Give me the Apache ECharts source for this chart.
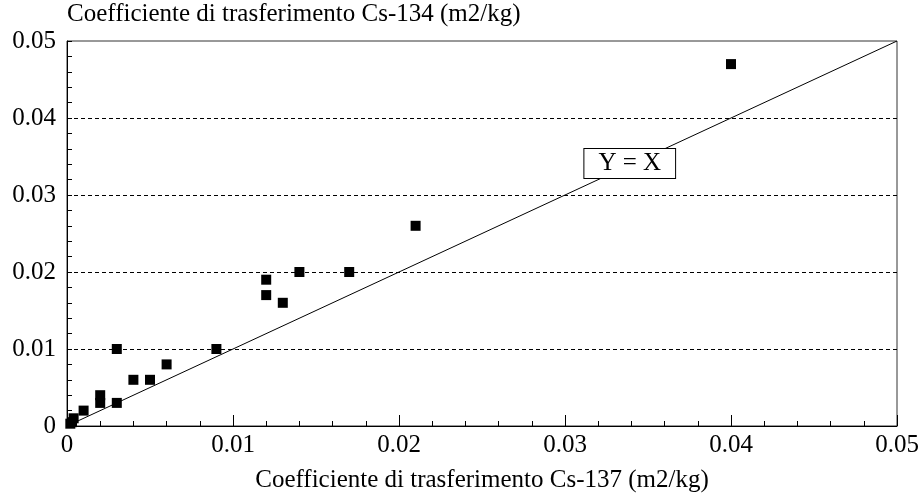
<!DOCTYPE html>
<html>
<head>
<meta charset="utf-8">
<script src="https://cdn.jsdelivr.net/npm/echarts@6/dist/echarts.min.js"></script>
<style>
  html, body { margin: 0; padding: 0; background: #fff; }
  #chart { width: 920px; height: 496px; }
</style>
</head>
<body>
<div id="chart"></div>
<script>
// Transfer coefficients (m2/kg): Cs-137 on x, Cs-134 on y
const cs137 = [0.0002, 0.0003, 0.0004, 0.001, 0.002, 0.002, 0.003, 0.003, 0.004, 0.005,
               0.006, 0.009, 0.012, 0.012, 0.013, 0.014, 0.017, 0.021, 0.040];
const cs134 = [0.0003, 0.0005, 0.001, 0.002, 0.004, 0.003, 0.010, 0.003, 0.006, 0.006,
               0.008, 0.010, 0.019, 0.017, 0.016, 0.020, 0.020, 0.026, 0.047];

// Reference line Y = X across the full axis range
const identityX = [0, 0.05];
const identityY = [0, 0.05];
const identityLabel = 'Y = X';
const identityLabelAt = [0.0339, 0.0341];

const xTicks = [0, 0.01, 0.02, 0.03, 0.04, 0.05];
const yTicks = [0, 0.01, 0.02, 0.03, 0.04, 0.05];

const xName = 'Coefficiente di trasferimento Cs-137 (m2/kg)';
const yName = 'Coefficiente di trasferimento Cs-134 (m2/kg)';

const serif = '"Liberation Serif", "Times New Roman", serif';
const textSize = 25;

const fmt = v => (v === 0 ? '0' : String(+v.toFixed(2)));

const chart = echarts.init(document.getElementById('chart'), null, { renderer: 'canvas' });

chart.setOption({
  animation: false,
  backgroundColor: '#fff',
  grid: {
    left: 67, top: 41, width: 830, height: 385,
    outerBoundsMode: 'none',
    containLabel: false,
    show: true, borderColor: '#333', borderWidth: 1, backgroundColor: 'transparent'
  },
  xAxis: {
    type: 'value',
    min: xTicks[0], max: xTicks[xTicks.length - 1], interval: 0.01,
    name: xName,
    nameLocation: 'middle',
    nameGap: 42,
    nameTextStyle: { fontFamily: serif, fontSize: textSize, color: '#000' },
    axisLine: { show: true, lineStyle: { color: '#000', width: 1 } },
    axisTick: { show: true, inside: true, length: 11, lineStyle: { color: '#000' } },
    minorTick: { show: true, splitNumber: 5, length: 5, lineStyle: { color: '#000' } },
    axisLabel: { fontFamily: serif, fontSize: textSize, color: '#000', margin: 7, formatter: fmt },
    splitLine: { show: false }
  },
  yAxis: {
    type: 'value',
    min: yTicks[0], max: yTicks[yTicks.length - 1], interval: 0.01,
    name: yName,
    nameLocation: 'end',
    nameGap: 27,
    nameTextStyle: { fontFamily: serif, fontSize: textSize, color: '#000', align: 'left', verticalAlign: 'middle' },
    axisLine: { show: true, lineStyle: { color: '#000', width: 1 } },
    axisTick: { show: true, inside: true, length: 5, lineStyle: { color: '#000' } },
    minorTick: { show: true, splitNumber: 5, length: 5, lineStyle: { color: '#000' } },
    axisLabel: { fontFamily: serif, fontSize: textSize, color: '#000', margin: 11, formatter: fmt },
    splitLine: {
      show: true,
      showMinLine: false,
      showMaxLine: false,
      lineStyle: { color: '#000', width: 1, type: [4, 3] }
    }
  },
  series: [
    {
      type: 'line',
      data: identityX.map((x, i) => [x, identityY[i]]),
      symbol: 'none',
      lineStyle: { color: '#000', width: 1 },
      silent: true,
      z: 2
    },
    {
      type: 'scatter',
      data: cs137.map((x, i) => [x, cs134[i]]),
      symbol: 'rect',
      symbolSize: 10,
      itemStyle: { color: '#000', opacity: 1 },
      z: 3
    },
    {
      type: 'scatter',
      data: [identityLabelAt],
      symbolSize: 0,
      silent: true,
      z: 4,
      itemStyle: { opacity: 1 },
      label: {
        show: true,
        position: 'inside',
        formatter: identityLabel,
        fontFamily: serif,
        fontSize: textSize,
        color: '#000',
        backgroundColor: '#fff',
        borderColor: '#000',
        borderWidth: 1,
        padding: [3, 14, 1, 14]
      }
    }
  ]
});
</script>
</body>
</html>
